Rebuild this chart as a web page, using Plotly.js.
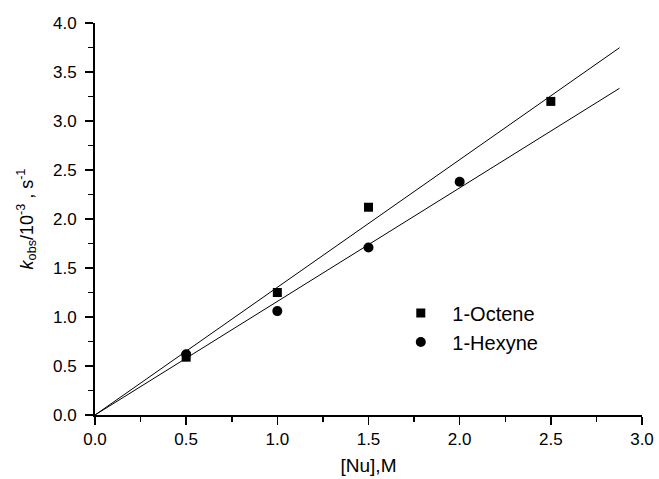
<!DOCTYPE html>
<html><head><meta charset="utf-8">
<script src="https://cdn.plot.ly/plotly-3.0.1.min.js"></script>
<style>body{margin:0;background:#fff}#c{width:659px;height:479px}</style>
</head><body><div id="c"></div>
<script>
const octeneX = [0.5, 1.0, 1.5, 2.5];
const octeneY = [0.59, 1.25, 2.12, 3.20];
const hexyneX = [0.5, 1.0, 1.5, 2.0];
const hexyneY = [0.62, 1.06, 1.71, 2.38];
const fitX = [0, 2.877];
const octeneFitY = [0, 3.748];
const hexyneFitY = [0, 3.334];
const xTicks = [0, 0.5, 1.0, 1.5, 2.0, 2.5, 3.0];
const yTicks = [0, 0.5, 1.0, 1.5, 2.0, 2.5, 3.0, 3.5, 4.0];

const data = [
  {x: fitX, y: octeneFitY, mode: 'lines', line: {color: '#000', width: 1}, showlegend: false, hoverinfo: 'skip'},
  {x: fitX, y: hexyneFitY, mode: 'lines', line: {color: '#000', width: 1}, showlegend: false, hoverinfo: 'skip'},
  {x: octeneX, y: octeneY, mode: 'markers', name: '1-Octene', marker: {symbol: 'square', size: 9, color: '#000'}, cliponaxis: false},
  {x: hexyneX, y: hexyneY, mode: 'markers', name: '1-Hexyne', marker: {symbol: 'circle', size: 10, color: '#000'}, cliponaxis: false}
];
const fam = 'Liberation Sans, Arial, sans-serif';
const tickFont = {family: fam, size: 17, color: '#000'};
const titleFont = {family: fam, size: 19, color: '#000'};
const layout = {
  width: 659, height: 479,
  margin: {l: 95, r: 17, t: 23, b: 64},
  paper_bgcolor: '#fff', plot_bgcolor: '#fff',
  font: tickFont,
  showlegend: true,
  legend: {x: 0.538, y: 0.31, xanchor: 'left', yanchor: 'top', font: {family: fam, size: 20, color: '#000'}, bgcolor: 'rgba(0,0,0,0)', itemwidth: 53, tracegroupgap: 0},
  xaxis: {
    range: [0, 3], tickvals: xTicks, ticktext: xTicks.map(v => v.toFixed(1)),
    showgrid: false, zeroline: false, showline: true, linecolor: '#000', linewidth: 2,
    ticks: 'outside', ticklen: 8, tickwidth: 1.5, tickcolor: '#000',
    minor: {ticks: 'outside', ticklen: 5, tickwidth: 1.5, tickcolor: '#000', dtick: 0.25, showgrid: false},
    title: {text: '[Nu],M', font: titleFont, standoff: 10},
    tickfont: tickFont
  },
  yaxis: {
    range: [0, 4], tickvals: yTicks, ticktext: yTicks.map(v => v.toFixed(1)),
    showgrid: false, zeroline: false, showline: true, linecolor: '#000', linewidth: 2,
    ticks: 'outside', ticklen: 8, tickwidth: 1.5, tickcolor: '#000', ticklabelstandoff: 5,
    minor: {ticks: 'outside', ticklen: 5, tickwidth: 1.5, tickcolor: '#000', dtick: 0.25, showgrid: false},
    title: {text: '<i>k</i><sub>obs</sub>/10<sup>-3</sup> , s<sup>-1</sup>', font: {family: fam, size: 18, color: '#000'}, standoff: 15},
    tickfont: tickFont
  }
};
Plotly.newPlot('c', data, layout, {displayModeBar: false, staticPlot: true});
</script>
</body></html>
